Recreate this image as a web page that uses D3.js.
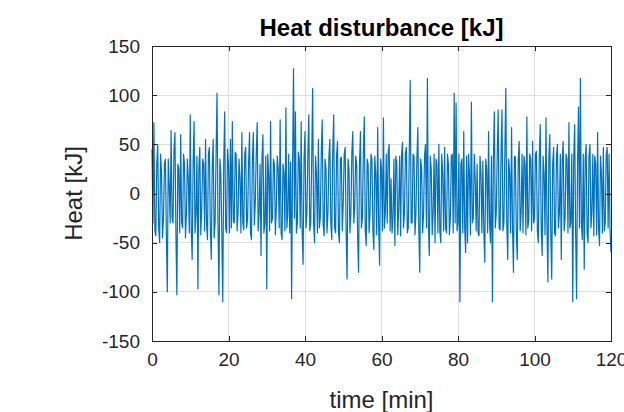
<!DOCTYPE html>
<html lang="en">
<head>
    <meta charset="UTF-8">
    <title>Heat disturbance</title>
    <style>
        body { margin: 0; background: #fff; }
        #chart { font-family: "Liberation Sans", Arial, sans-serif; }
        .grid line { stroke: #dfdfdf; stroke-width: 1px; shape-rendering: crispEdges; }
        .axis path, .axis line { fill: none; stroke: #262626; shape-rendering: crispEdges; }
        .axis text { fill: #262626; font-size: 19px; }
        .line { fill: none; stroke: #0072bd; stroke-width: 1.2px; stroke-linejoin: round; }
    </style>
    <script src="https://d3js.org/d3.v7.min.js"></script>
</head>
<body>
    <div id="chart"></div>
    <script>
        // sampling interval of the heat signal, minutes
        const sampleStep = 0.25;

        // heat disturbance [kJ], one value per sample (10 min per row)
        const heat = [
            45, -30, 72, -38, -43, 30, 50, -35, -50, 40, 20, -45, -25, 30, 35, -40, -100, 35, 10, -30, 64, -25, -30, 45, 62, -40, -103, 30, 25, -40, 60, -30, -35, 40, 30, -45, -20, 35, 15, -40,
            80, -35, -67, 30, 73, -40, -20, 38, -97, 25, 47, -42, -15, 35, 30, -38, 55, -30, -47, 40, 47, -35, -67, 28, 55, -45, -30, 40, 102, -30, -103, 35, 20, -40, -110, 30, 83, -35, -40, 45,
            30, -40, 55, -35, 73, -28, -30, 42, 40, -38, -20, 35, 15, -40, 62, -30, -37, 40, 47, -35, -25, 30, 62, -40, -47, 35, 62, -32, -10, 40, 72, -38, -20, 30, -63, 35, 60, -40, -30, 38,
            -97, 40, 20, -38, 73, -30, -25, 35, 30, -42, -15, 38, 25, -35, 75, -40, -47, 30, 20, -38, 87, -35, -20, 40, -40, 32, -107, 30, 127, -25, 83, -40, -30, 42, 35, -35, 73, -38, -72, 35,
            63, -35, -20, 40, 80, -38, -30, 35, 107, -30, -50, 38, 20, -40, 55, -35, -25, 40, 75, -32, -43, 35, 25, -40, -20, 38, 55, -30, -47, 42, 80, -35, -40, 38, 53, -40, -50, 35, 37, -38,
            -10, 40, 47, -38, -87, 35, 25, -40, -20, 42, 63, -30, -15, 38, 30, -42, -80, 30, 63, -35, -25, 40, 78, -38, -53, 35, 30, -40, -20, 40, 35, -38, -57, 38, 20, -42, 67, -30, -73, 35,
            25, -38, 77, -35, -20, 40, -30, 42, 50, -38, 15, -40, -25, 35, -53, 38, 30, -42, -15, 38, -43, 40, 52, -35, -20, 40, 47, -40, -35, 38, 115, -30, -30, 40, 38, -42, -20, 35, 67, -35,
            -80, 35, 25, -40, -20, 38, 50, -35, 117, -30, -63, 38, 25, -42, -20, 40, -50, 35, 30, -40, 50, -38, -50, 40, 20, -38, 47, -35, -40, 40, 30, -42, -25, 38, 40, -40, 102, -30, 92, -38,
            -30, 40, -110, 30, 35, -40, 63, -35, -60, 38, -50, 40, 20, -42, 93, -30, -25, 40, 15, -38, 30, -40, -43, 38, 20, -40, 33, -38, -70, 35, 25, -40, 63, -30, -50, 38, -110, 35, 83, -35,
            -20, 38, 85, -35, -37, 40, 85, -38, -30, 42, 107, -30, -67, 35, 20, -40, 67, -35, -80, 38, 37, -40, -67, 35, 53, -38, -20, 40, -40, 38, 30, -42, 78, -35, -27, 40, 35, -38, 53, -30,
            -25, 40, 43, -38, -50, 35, 70, -35, -63, 38, 20, -42, 77, -30, -90, 35, 60, -38, -87, 30, 47, -40, -43, 38, 50, -35, -20, 40, -67, 35, 53, -38, -25, 40, 35, -40, 72, -35, -30, 40,
            -110, 35, 70, -38, -107, 30, 88, -35, 117, -30, -47, 40, -77, 35, 50, -40, -50, 38, 50, -35, -20, 40, -43, 38, 30, -42, 62, -35, -53, 38, 20, -40, 47, -38, -30, 40, 47, -35, 40, -38,
            -60
        ];

        const xTicks = [0, 20, 40, 60, 80, 100, 120];
        const yTicks = [-150, -100, -50, 0, 50, 100, 150];
        const xDomain = [0, 120];
        const yDomain = [-150, 150];

        const titleText = "Heat disturbance [kJ]";
        const xLabel = "time [min]";
        const yLabel = "Heat [kJ]";

        const W = 624, H = 412;
        const margin = { top: 46, right: 13, bottom: 71, left: 152 };
        const width = W - margin.left - margin.right;
        const height = H - margin.top - margin.bottom;

        const svg = d3.select("#chart")
            .append("svg")
            .attr("width", W)
            .attr("height", H)
            .append("g")
            .attr("transform", `translate(${margin.left},${margin.top})`);

        const x = d3.scaleLinear().domain(xDomain).range([0, width]);
        const y = d3.scaleLinear().domain(yDomain).range([height, 0]);

        // matlab prints a plain hyphen for negatives
        const plain = d => String(d);

        // grid
        svg.append("g").attr("class", "grid")
            .selectAll("line").data(xTicks.slice(1, -1)).enter().append("line")
            .attr("x1", d => x(d)).attr("x2", d => x(d))
            .attr("y1", 0).attr("y2", height);
        svg.append("g").attr("class", "grid")
            .selectAll("line").data(yTicks.slice(1, -1)).enter().append("line")
            .attr("x1", 0).attr("x2", width)
            .attr("y1", d => y(d)).attr("y2", d => y(d));

        // signal
        const line = d3.line()
            .x((d, i) => x(i * sampleStep))
            .y(d => y(d));

        svg.append("path")
            .datum(heat)
            .attr("class", "line")
            .attr("d", line);

        // axes, ticks pointing inward like matlab
        svg.append("g").attr("class", "axis")
            .attr("transform", `translate(0,${height})`)
            .call(d3.axisBottom(x).tickValues(xTicks).tickFormat(plain).tickSizeInner(-5).tickSizeOuter(0).tickPadding(12));
        svg.append("g").attr("class", "axis")
            .call(d3.axisTop(x).tickValues(xTicks).tickSizeInner(-5).tickSizeOuter(0).tickFormat(""));
        svg.append("g").attr("class", "axis")
            .call(d3.axisLeft(y).tickValues(yTicks).tickFormat(plain).tickSizeInner(-5).tickSizeOuter(0).tickPadding(12));
        svg.append("g").attr("class", "axis")
            .attr("transform", `translate(${width},0)`)
            .call(d3.axisRight(y).tickValues(yTicks).tickSizeInner(-5).tickSizeOuter(0).tickFormat(""));

        // title and labels
        svg.append("text")
            .attr("x", width / 2)
            .attr("y", -10)
            .attr("text-anchor", "middle")
            .style("font-size", "24px")
            .style("font-weight", "bold")
            .style("fill", "#000")
            .text(titleText);

        svg.append("text")
            .attr("x", width / 2)
            .attr("y", height + 67)
            .attr("text-anchor", "middle")
            .style("font-size", "24px")
            .style("fill", "#262626")
            .text(xLabel);

        svg.append("text")
            .attr("transform", "rotate(-90)")
            .attr("x", -y(0))
            .attr("y", -70)
            .attr("text-anchor", "middle")
            .style("font-size", "24px")
            .style("fill", "#262626")
            .text(yLabel);
    </script>
</body>
</html>
